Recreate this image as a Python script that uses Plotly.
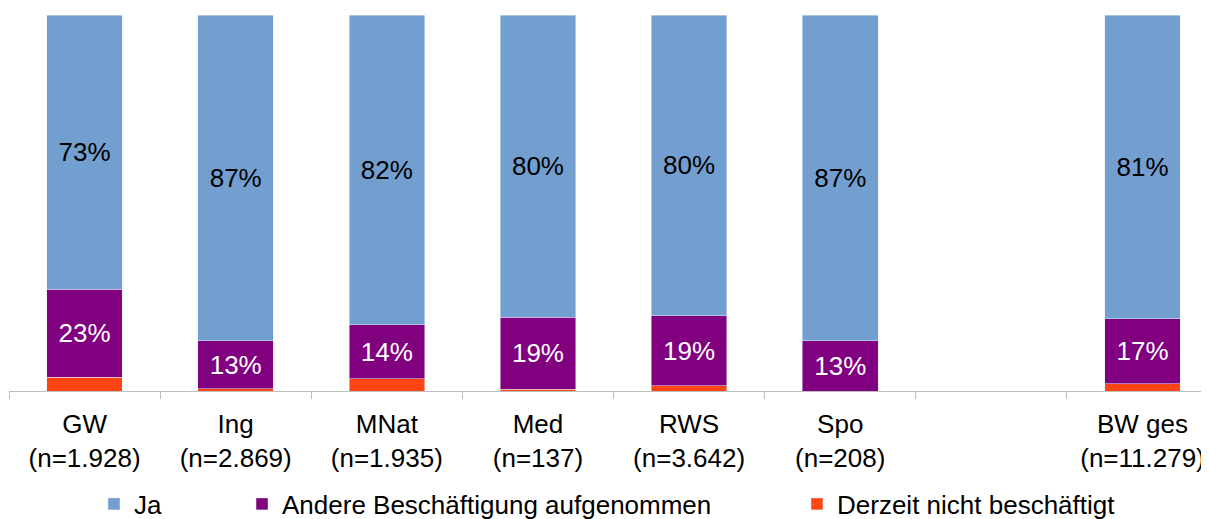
import plotly.graph_objects as go

categories = ["GW<br>(n=1.928)", "Ing<br>(n=2.869)", "MNat<br>(n=1.935)", "Med<br>(n=137)",
              "RWS<br>(n=3.642)", "Spo<br>(n=208)", " ", "BW ges<br>(n=11.279)"]
ja = [73.0, 86.7, 82.4, 80.4, 80.0, 86.7, None, 80.8]
andere = [23.4, 12.7, 14.4, 19.1, 18.6, 13.3, None, 17.3]
derzeit = [3.6, 0.6, 3.2, 0.5, 1.4, 0.0, None, 1.9]

series_names = ["Ja", "Andere Beschäftigung aufgenommen", "Derzeit nicht beschäftigt"]
colors = ["#729FCF", "#800080", "#FF4513"]

FONT = "Liberation Sans, Arial, sans-serif"

def fmt(vals):
    return [("" if v is None else f"{round(v):.0f}%") for v in vals]

fig = go.Figure()
fig.add_trace(go.Bar(x=categories, y=derzeit, name=series_names[2], marker_color=colors[2],
                     legend="legend3", showlegend=True, width=0.5))
fig.add_trace(go.Bar(x=categories, y=andere, name=series_names[1], marker_color=colors[1],
                     legend="legend2", showlegend=True, width=0.5, text=fmt(andere),
                     textposition="inside", insidetextanchor="middle", textangle=0,
                     textfont=dict(color="white", size=26, family=FONT)))
fig.add_trace(go.Bar(x=categories, y=ja, name=series_names[0], marker_color=colors[0],
                     legend="legend", showlegend=True, width=0.5, text=fmt(ja),
                     textposition="inside", insidetextanchor="middle", textangle=0,
                     textfont=dict(color="#000000", size=26, family=FONT)))

# page body has an 8px margin; compensate so the chart lands where the reference has it
OFF = 8
W, H = 1209 - OFF, 519 - OFF
L, R, T, B = 9 - OFF, 0, 15 - OFF, 128
pw = W - L - R
ph = H - T - B

def px_x(x):
    return (x - OFF - L) / pw

def px_y(y):
    return (H - B - (y - OFF)) / ph

legend_common = dict(orientation="h", yanchor="middle", xanchor="left",
                     font=dict(size=26, family=FONT, color="#000000"),
                     bgcolor="rgba(0,0,0,0)", borderwidth=0)

fig.update_layout(
    width=W, height=H,
    margin=dict(l=L, r=R, t=T, b=B, autoexpand=False),
    barmode="stack",
    showlegend=True,
    plot_bgcolor="white", paper_bgcolor="white",
    font=dict(family=FONT, color="#000000"),
    uniformtext=dict(minsize=26, mode="show"),
    legend=dict(x=px_x(94), y=px_y(504), **legend_common),
    legend2=dict(x=px_x(242), y=px_y(504), **legend_common),
    legend3=dict(x=px_x(797), y=px_y(504), **legend_common),
    xaxis=dict(type="category", range=[-0.5, 7.44], tickson="boundaries",
               ticks="outside", ticklen=7, tickcolor="#BFBFBF", tickwidth=1,
               showline=True, linecolor="#BFBFBF", linewidth=1,
               tickfont=dict(size=26, family=FONT, color="#000000"),
               ticklabelstandoff=10,
               showgrid=False, fixedrange=True, automargin=False),
    yaxis=dict(range=[0, 100], visible=False, showgrid=False),
)

fig.write_html("out.html")
